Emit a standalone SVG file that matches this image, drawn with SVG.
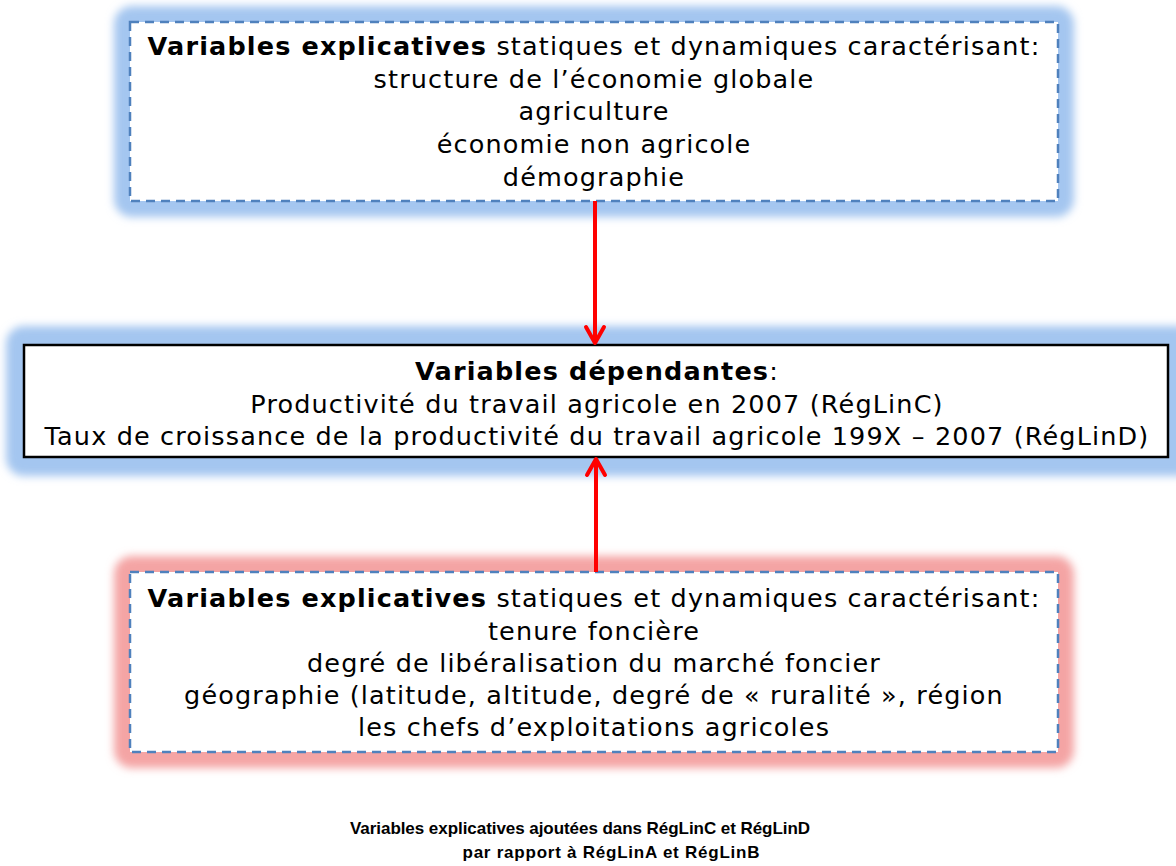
<svg xmlns="http://www.w3.org/2000/svg" width="1176" height="866" viewBox="0 0 1176 866">
<defs>
<filter id="glow" x="-10%" y="-30%" width="120%" height="160%"><feGaussianBlur stdDeviation="4"/></filter>
<marker id="arr" viewBox="0 0 24 24" refX="20" refY="12" markerWidth="24" markerHeight="24" markerUnits="userSpaceOnUse" orient="auto">
<path d="M4,3 L20,12 L4,21" fill="none" stroke="#ff0000" stroke-width="4" stroke-linecap="round" stroke-linejoin="round"/>
</marker>
</defs>
<style>
text{font-family:"DejaVu Sans",Verdana,sans-serif;font-size:25.5px;letter-spacing:1.15px;fill:#000;text-anchor:middle}
.b{font-weight:bold}
.dash{fill:#fff;stroke:#4f81bd;stroke-width:2.5;stroke-dasharray:9,6}
.cap{font-family:"Liberation Sans",Arial,sans-serif;font-size:17px;letter-spacing:0;font-weight:bold}
.conn{stroke:#ff0000;stroke-width:4;fill:none}
</style>
<rect width="1176" height="866" fill="#fff"/>
<g id="top">
<rect x="114" y="6" width="960" height="211" rx="18" fill="#a4c6f0" filter="url(#glow)"/>
<rect x="130" y="22" width="928" height="179" class="dash"/>
<text x="594" y="55"><tspan class="b">Variables explicatives</tspan> statiques et dynamiques caractérisant:</text>
<text x="594" y="88">structure de l’économie globale</text>
<text x="594" y="120">agriculture</text>
<text x="594" y="153">économie non agricole</text>
<text x="594" y="186">démographie</text>
</g>
<g id="middle">
<rect x="6" y="326" width="1190" height="150" rx="18" fill="#a4c6f0" filter="url(#glow)"/>
<rect x="24" y="345" width="1144" height="112" fill="#fff" stroke="#000" stroke-width="2.5"/>
<text x="597" y="380"><tspan class="b">Variables dépendantes</tspan>:</text>
<text x="597" y="413">Productivité du travail agricole en 2007 (RégLinC)</text>
<text x="597" y="445">Taux de croissance de la productivité du travail agricole 199X – 2007 (RégLinD)</text>
</g>
<g id="bottom">
<rect x="114" y="556" width="960" height="212" rx="18" fill="#f4a4a4" filter="url(#glow)"/>
<rect x="130" y="572" width="928" height="180" class="dash"/>
<text x="594" y="607"><tspan class="b">Variables explicatives</tspan> statiques et dynamiques caractérisant:</text>
<text x="594" y="640">tenure foncière</text>
<text x="594" y="672">degré de libéralisation du marché foncier</text>
<text x="594" y="704">géographie (latitude, altitude, degré de « ruralité », région</text>
<text x="594" y="736">les chefs d’exploitations agricoles</text>
</g>
<g id="connectors">
<line x1="595" y1="201" x2="595" y2="343" class="conn" marker-end="url(#arr)"/>
<line x1="596" y1="572" x2="596" y2="459" class="conn" marker-end="url(#arr)"/>
</g>
<g id="caption">
<text class="cap" x="580" y="834" textLength="460" lengthAdjust="spacing">Variables explicatives ajoutées dans RégLinC et RégLinD</text>
<text class="cap" x="611" y="858" textLength="297" lengthAdjust="spacing">par rapport à RégLinA et RégLinB</text>
</g>
</svg>
